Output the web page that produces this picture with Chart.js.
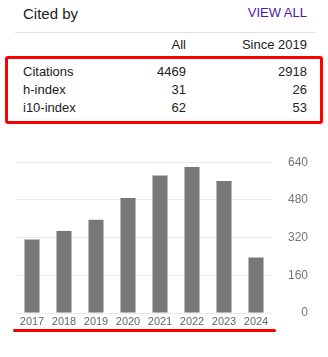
<!DOCTYPE html>
<html>
<head>
<meta charset="utf-8">
<script src="https://cdn.jsdelivr.net/npm/chart.js"></script>
<style>
    html, body { margin: 0; padding: 0; background: #fff; }
    body { width: 328px; height: 357px; position: relative; overflow: hidden;
           font-family: "Liberation Sans", Arial, sans-serif; color: #222; }
    .t { position: absolute; line-height: 1; white-space: nowrap; }
    .r { text-align: right; }
    #chartWrap { position: absolute; left: 0; top: 140px; width: 328px; height: 200px; }
</style>
</head>
<body>
    <!-- Header -->
    <div class="t" style="left:23px;top:6px;font-size:15px;">Cited by</div>
    <div class="t r" style="right:21px;top:6px;font-size:13px;color:#4f14ad;">VIEW ALL</div>
    <div style="position:absolute;left:15px;top:32px;width:300px;height:1px;background:#e0e0e0;"></div>

    <!-- Stats table -->
    <div class="t r" style="right:142px;top:38px;font-size:13px;">All</div>
    <div class="t r" style="right:21px;top:38px;font-size:13px;">Since 2019</div>
    <div id="rows"></div>

    <!-- Highlight marks -->
    <div style="position:absolute;left:5px;top:56px;width:318px;height:68px;border:3px solid #f00;border-radius:3px;box-sizing:border-box;"></div>
    <div style="position:absolute;left:13px;top:329px;width:263px;height:3px;background:#f00;border-radius:2px;"></div>

    <div id="chartWrap"><canvas id="chart" width="328" height="200"></canvas></div>

<script>
// Table data
const rowLabels = [ 'Citations', 'h-index', 'i10-index' ];
const allValues = [ 4469, 31, 62 ];
const sinceValues = [ 2918, 26, 53 ];

// Chart data
const years = [ '2017', '2018', '2019', '2020', '2021', '2022', '2023', '2024' ];
const citations = [ 312, 348, 396, 488, 584, 620, 560, 236 ];
const yTicks = [ 0, 160, 320, 480, 640 ];

// Build table rows
const rows = document.getElementById( 'rows' );
rowLabels.forEach( ( label, i ) =>
{
    const top = 65 + i * 18;
    rows.insertAdjacentHTML( 'beforeend',
        `<div class="t" style="left:23px;top:${ top }px;font-size:13px;">${ label }</div>` +
        `<div class="t r" style="right:142px;top:${ top }px;font-size:13px;">${ allValues[ i ] }</div>` +
        `<div class="t r" style="right:21px;top:${ top }px;font-size:13px;">${ sinceValues[ i ] }</div>` );
} );

const ctx = document.getElementById( 'chart' ).getContext( '2d' );

new Chart( ctx, {
    type: 'bar',
    data: {
        labels: years,
        datasets: [ {
            data: citations,
            backgroundColor: '#777777',
            borderWidth: 0,
            barPercentage: 0.47,
            categoryPercentage: 1
        } ]
    },
    options: {
        responsive: false,
        devicePixelRatio: 1,
        animation: false,
        layout: {
            padding: { left: 16, right: 20, top: 13.3, bottom: 7 }
        },
        plugins: {
            legend: { display: false },
            tooltip: { enabled: false }
        },
        scales: {
            x: {
                grid: { display: false, drawTicks: false },
                border: { display: false },
                ticks: {
                    color: '#666',
                    font: { family: 'Liberation Sans', size: 11 },
                    padding: 2,
                    autoSkip: false,
                    maxRotation: 0
                },
                afterFit: ( scale ) => { scale.height = 20; }
            },
            y: {
                position: 'right',
                min: yTicks[ 0 ],
                max: yTicks[ yTicks.length - 1 ],
                afterBuildTicks: ( scale ) =>
                {
                    scale.ticks = yTicks.map( v => ( { value: v } ) );
                },
                grid: { color: '#ebebeb', drawTicks: false },
                border: { display: false },
                ticks: {
                    color: '#757575',
                    font: { family: 'Liberation Sans', size: 12 },
                    padding: 15,
                    crossAlign: 'far'
                },
                afterFit: ( scale ) => { scale.width = 36; }
            }
        }
    }
} );
</script>
</body>
</html>
